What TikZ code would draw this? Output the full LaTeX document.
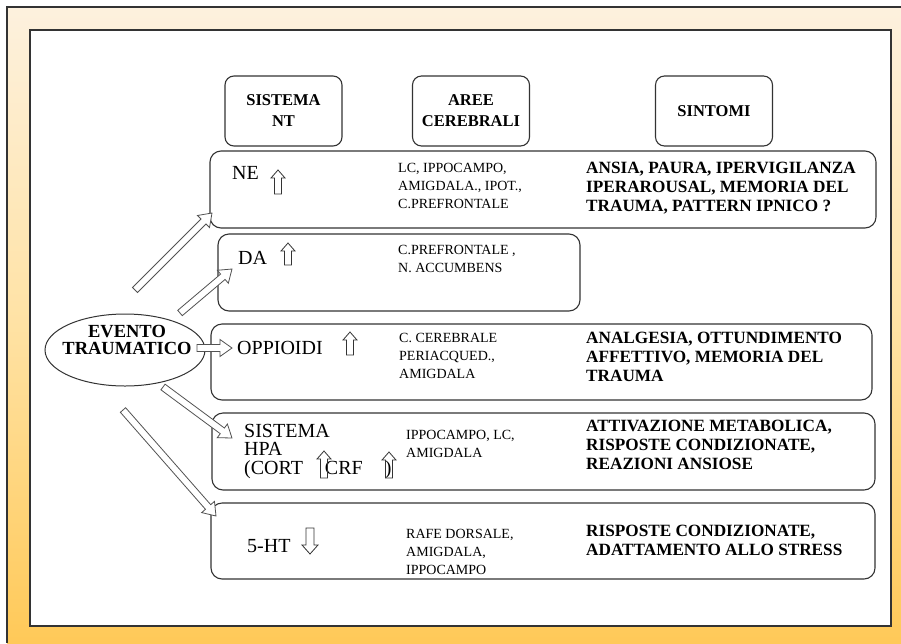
\documentclass[tikz,border=0pt]{standalone}
\usepackage{fontspec}
\setmainfont{Liberation Serif}
\usepackage{xcolor}
\definecolor{ink}{HTML}{333333}
\definecolor{frtop}{HTML}{FDF1DE}
\definecolor{frmid}{HTML}{FFE2A4}
\definecolor{frbot}{HTML}{FFC958}
\usetikzlibrary{calc,shapes.geometric}
\tikzset{
  hbox/.style={draw=ink,rounded corners=9pt,line width=1.1pt,minimum width=117pt,minimum height=70pt,align=center,font=\fontsize{16.5pt}{21pt}\selectfont\bfseries},
  rowbox/.style={draw=ink,rounded corners=11pt,line width=1.1pt,inner sep=0pt},
  nt/.style={anchor=north west,inner sep=0pt,align=left,font=\fontsize{20pt}{18.5pt}\selectfont},
  aree/.style={anchor=north west,inner sep=0pt,align=left,font=\fontsize{14pt}{18pt}\selectfont},
  sint/.style={anchor=north west,inner sep=0pt,align=left,font=\fontsize{17.2pt}{18.8pt}\selectfont\bfseries},
  hol/.style={draw=ink,line width=0.8pt,line join=miter},
  barr/.style={draw=ink!85,line width=0.8pt,fill=white,line join=miter},
}
% hollow up / down arrows: x, tip y, length
\newcommand{\uparr}[3]{\draw[hol] (#1,#2) -- ++(7,8) -- ++(-3.5,0) -- ++(0,#3-8) -- ++(-7,0) -- ++(0,8-#3) -- ++(-3.5,0) -- cycle;}
\newcommand{\dnarr}[3]{\draw[hol] (#1,#2) -- ++(8,-9) -- ++(-4,0) -- ++(0,9-#3) -- ++(-8,0) -- ++(0,#3-9) -- ++(-4,0) -- cycle;}
% block arrow from tail to tip
\newcommand{\blockarr}[2]{%
  \draw[barr] let \p1=($(#2)-(#1)$), \n1={veclen(\x1,\y1)}, \n2={atan2(\y1,\x1)} in
    [shift={(#1)},rotate=\n2]
    (0pt,-3.5pt) -- ({\n1-12pt},-3.5pt) -- ({\n1-12pt},-8.5pt) -- ({\n1+0pt},0pt)
    -- ({\n1-12pt},8.5pt) -- ({\n1-12pt},3.5pt) -- (0pt,3.5pt) -- cycle;}

\begin{document}
\begin{tikzpicture}[x=1pt,y=-1pt]
\useasboundingbox (0,0) rectangle (901,643);
% frame
\fill[top color=frtop,bottom color=frbot,middle color=frmid] (7,7) rectangle (901,643);
\draw[ink,line width=1.2pt] (7,643) -- (7,7) -- (901,7);
\draw[fill=white,draw=ink,line width=1.5pt] (30,30) rectangle (891,626);

% column heads
\node[hbox] (hsis) at (283.5,111) {SISTEMA\\NT};
\node[hbox] (hare) at (471,111) {AREE\\CEREBRALI};
\node[hbox] (hsin) at (714,111) {SINTOMI};

% rows
\node[rowbox,minimum width=666pt,minimum height=77pt] (ne) at (543,189.5) {};
\node[rowbox,minimum width=362pt,minimum height=77pt] (da) at (399,272.5) {};
\node[rowbox,minimum width=661pt,minimum height=76pt] (op) at (541.5,362) {};
\node[rowbox,minimum width=663pt,minimum height=77pt] (hp) at (543.5,451.5) {};
\node[rowbox,minimum width=664pt,minimum height=76pt] (fh) at (543,541) {};

\node[nt] (lne) at (232,166) {NE};
\uparr{278}{170}{24}
\node[aree] (ane) at (398,163) {LC, IPPOCAMPO,\\AMIGDALA., IPOT.,\\C.PREFRONTALE};
\node[sint] (sne) at (586,162) {ANSIA, PAURA, IPERVIGILANZA\\IPERAROUSAL, MEMORIA DEL\\TRAUMA, PATTERN IPNICO ?};

\node[nt] (lda) at (238,251) {DA};
\uparr{288}{243}{22}
\node[aree] (ada) at (398,245) {C.PREFRONTALE ,\\N. ACCUMBENS};

\node[nt] (lop) at (237,341) {OPPIOIDI};
\uparr{350}{332}{23}
\node[aree] (aop) at (399,333) {C. CEREBRALE\\PERIACQUED.,\\AMIGDALA};
\node[sint] (sop) at (586,332) {ANALGESIA, OTTUNDIMENTO\\AFFETTIVO, MEMORIA DEL\\TRAUMA};

\node[nt] (lhp) at (244,424) {SISTEMA\\HPA\\(CORT\hspace{22pt}CRF\hspace{22pt})};
\uparr{324}{451}{27}
\uparr{389}{452}{26}
\node[aree] (ahp) at (406,430) {IPPOCAMPO, LC,\\AMIGDALA};
\node[sint] (shp) at (586,420) {ATTIVAZIONE METABOLICA,\\RISPOSTE CONDIZIONATE,\\REAZIONI ANSIOSE};

\node[nt] (lfh) at (247,539) {5-HT};
\dnarr{310}{554}{26}
\node[aree] (afh) at (406,529) {RAFE DORSALE,\\AMIGDALA,\\IPPOCAMPO};
\node[sint] (sfh) at (586,525) {RISPOSTE CONDIZIONATE,\\ADATTAMENTO ALLO STRESS};

% trauma event
\node[ellipse,draw=ink,line width=1pt,minimum width=160pt,minimum height=72pt] (ev) at (125,350) {};
\node[inner sep=0pt,align=center,font=\fontsize{18.5pt}{17.5pt}\selectfont\bfseries] (evt) at (127,340) {EVENTO\\TRAUMATICO};

\coordinate (tNE) at (135,290); \coordinate (hNE) at (212,213);
\coordinate (tDA) at (180,313); \coordinate (hDA) at (232,269);
\coordinate (tOP) at (197,348); \coordinate (hOP) at (232,348);
\coordinate (tHP) at (163,387); \coordinate (hHP) at (232,438);
\coordinate (tFH) at (123,410); \coordinate (hFH) at (216,516);
\blockarr{tNE}{hNE}
\blockarr{tDA}{hDA}
\blockarr{tOP}{hOP}
\blockarr{tHP}{hHP}
\blockarr{tFH}{hFH}
\end{tikzpicture}
\end{document}
